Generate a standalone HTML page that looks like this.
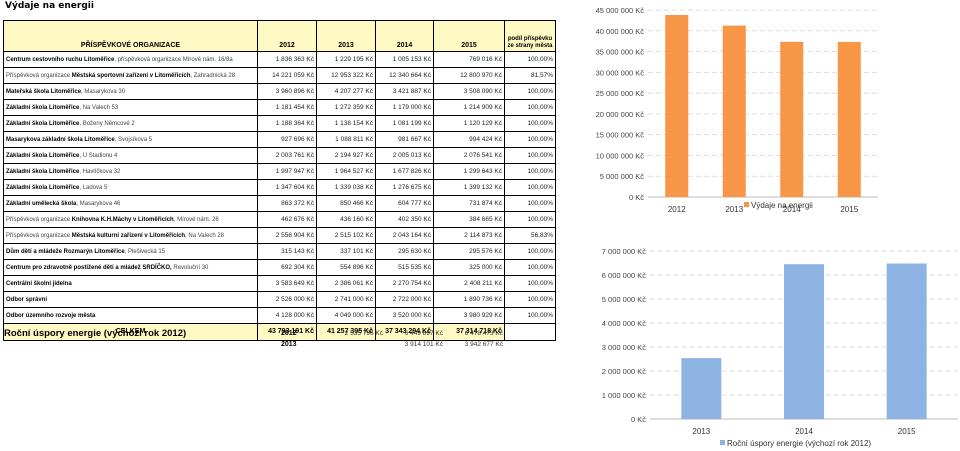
<!DOCTYPE html>
<html><head><meta charset="utf-8">
<style>
body{margin:0;width:960px;height:451px;background:#fff;position:relative;overflow:hidden;font-family:"Liberation Sans",sans-serif;color:#000}
#title{position:absolute;left:5px;top:1px;font-size:9px;font-weight:bold;font-family:"DejaVu Sans",sans-serif}
table{position:absolute;left:3px;top:20px;width:552px;border-collapse:collapse;table-layout:fixed;font-size:6.5px;font-family:"Liberation Sans",sans-serif}
td{border:1px solid #000;padding:0 2px;height:15px;white-space:nowrap;overflow:hidden;line-height:8px}
td.first{font-size:6px}
td.n{text-align:right;color:#222}
tr.h td{background:#fff9c4;font-weight:bold;text-align:center;height:29px;vertical-align:bottom;padding-bottom:1px;font-size:7px}
tr.h td.p{white-space:normal;line-height:7px;font-size:6px;padding:0 1px 1px 1px}
tr.t td{background:#fff9c4;font-weight:bold;height:16px;font-size:7px}
.l{color:#444}
.sav{position:absolute;font-size:6.5px;font-family:"Liberation Sans",sans-serif;color:#333}
svg text{font-family:"Liberation Sans",sans-serif}
</style></head><body>
<div id="title">Výdaje na energii</div>
<table>
<colgroup><col style="width:254px"><col style="width:59px"><col style="width:59px"><col style="width:58px"><col style="width:71px"><col style="width:51px"></colgroup>
<tr class="h"><td>PŘÍSPĚVKOVÉ ORGANIZACE</td><td>2012</td><td>2013</td><td>2014</td><td>2015</td><td class="p">podíl příspěvku ze strany města</td></tr>
<tr><td class="first"><b>Centrum cestovního ruchu Litoměřice</b><span class="l">, příspěvková organizace  Mírové nám. 16/8a</span></td><td class="n">1 836 363 Kč</td><td class="n">1 229 195 Kč</td><td class="n">1 005 153 Kč</td><td class="n">769 016 Kč</td><td class="n">100,00%</td></tr>
<tr><td class="first"><span class="l">Příspěvková organizace </span><b>Městská sportovní zařízení v Litoměřicích</b><span class="l">, Zahradnická 28</span></td><td class="n">14 221 059 Kč</td><td class="n">12 953 322 Kč</td><td class="n">12 340 664 Kč</td><td class="n">12 800 970 Kč</td><td class="n">81,57%</td></tr>
<tr><td class="first"><b>Mateřská škola Litoměřice</b><span class="l">, Masarykova 30</span></td><td class="n">3 960 896 Kč</td><td class="n">4 207 277 Kč</td><td class="n">3 421 887 Kč</td><td class="n">3 508 090 Kč</td><td class="n">100,00%</td></tr>
<tr><td class="first"><b>Základní škola Litoměřice</b><span class="l">, Na Valech 53</span></td><td class="n">1 181 454 Kč</td><td class="n">1 272 359 Kč</td><td class="n">1 179 000 Kč</td><td class="n">1 214 909 Kč</td><td class="n">100,00%</td></tr>
<tr><td class="first"><b>Základní škola Litoměřice</b><span class="l">, Boženy Němcové 2</span></td><td class="n">1 188 364 Kč</td><td class="n">1 138 154 Kč</td><td class="n">1 081 199 Kč</td><td class="n">1 120 129 Kč</td><td class="n">100,00%</td></tr>
<tr><td class="first"><b>Masarykova základní škola Litoměřice</b><span class="l">, Svojsíkova 5</span></td><td class="n">927 696 Kč</td><td class="n">1 088 811 Kč</td><td class="n">981 667 Kč</td><td class="n">994 424 Kč</td><td class="n">100,00%</td></tr>
<tr><td class="first"><b>Základní škola Litoměřice</b><span class="l">, U Stadionu 4</span></td><td class="n">2 003 761 Kč</td><td class="n">2 194 927 Kč</td><td class="n">2 005 013 Kč</td><td class="n">2 076 541 Kč</td><td class="n">100,00%</td></tr>
<tr><td class="first"><b>Základní škola Litoměřice</b><span class="l">, Havlíčkova 32</span></td><td class="n">1 997 947 Kč</td><td class="n">1 964 527 Kč</td><td class="n">1 677 826 Kč</td><td class="n">1 299 643 Kč</td><td class="n">100,00%</td></tr>
<tr><td class="first"><b>Základní škola Litoměřice</b><span class="l">, Ladova 5</span></td><td class="n">1 347 604 Kč</td><td class="n">1 339 038 Kč</td><td class="n">1 276 675 Kč</td><td class="n">1 399 132 Kč</td><td class="n">100,00%</td></tr>
<tr><td class="first"><b>Základní umělecká škola</b><span class="l">, Masarykova 46</span></td><td class="n">863 372 Kč</td><td class="n">850 466 Kč</td><td class="n">604 777 Kč</td><td class="n">731 874 Kč</td><td class="n">100,00%</td></tr>
<tr><td class="first"><span class="l">Příspěvková organizace </span><b>Knihovna K.H.Máchy v Litoměřicích</b><span class="l">, Mírové nám. 26</span></td><td class="n">462 676 Kč</td><td class="n">436 160 Kč</td><td class="n">402 350 Kč</td><td class="n">384 665 Kč</td><td class="n">100,00%</td></tr>
<tr><td class="first"><span class="l">Příspěvková organizace </span><b>Městská kulturní zařízení v Litoměřicích</b><span class="l">, Na Valech  28</span></td><td class="n">2 556 904 Kč</td><td class="n">2 515 102 Kč</td><td class="n">2 043 164 Kč</td><td class="n">2 114 873 Kč</td><td class="n">56,83%</td></tr>
<tr><td class="first"><b>Dům dětí a mládeže Rozmarýn Litoměřice</b><span class="l">, Plešivecká 15</span></td><td class="n">315 143 Kč</td><td class="n">337 101 Kč</td><td class="n">295 630 Kč</td><td class="n">295 576 Kč</td><td class="n">100,00%</td></tr>
<tr><td class="first"><b>Centrum pro zdravotně postižené děti a mládež SRDÍČKO,</b><span class="l"> Revoluční 30</span></td><td class="n">692 304 Kč</td><td class="n">554 896 Kč</td><td class="n">515 535 Kč</td><td class="n">325 000 Kč</td><td class="n">100,00%</td></tr>
<tr><td class="first"><b>Centrální školní jídelna</b></td><td class="n">3 583 649 Kč</td><td class="n">2 386 061 Kč</td><td class="n">2 270 754 Kč</td><td class="n">2 408 211 Kč</td><td class="n">100,00%</td></tr>
<tr><td class="first"><b>Odbor správní</b></td><td class="n">2 526 000 Kč</td><td class="n">2 741 000 Kč</td><td class="n">2 722 000 Kč</td><td class="n">1 890 736 Kč</td><td class="n">100,00%</td></tr>
<tr><td class="first"><b>Odbor územního rozvoje města</b></td><td class="n">4 128 000 Kč</td><td class="n">4 049 000 Kč</td><td class="n">3 520 000 Kč</td><td class="n">3 980 929 Kč</td><td class="n">100,00%</td></tr>
<tr class="t"><td style="text-align:center">CELKEM</td><td class="n" style="color:#000">43 793 191 Kč</td><td class="n" style="color:#000">41 257 395 Kč</td><td class="n" style="color:#000">37 343 294 Kč</td><td class="n" style="color:#000">37 314 718 Kč</td><td style="background:#fff"></td></tr>
</table>
<div style="position:absolute;left:4px;top:328px;font-size:9.5px;font-weight:bold">Roční úspory energie (výchozí rok 2012)</div>
<div class="sav" style="left:281px;top:330px;font-weight:bold;color:#000;font-size:7px">2012</div>
<div class="sav" style="left:281px;top:341px;font-weight:bold;color:#000;font-size:7px">2013</div>
<div class="sav" style="left:300px;width:83px;text-align:right;top:330px">2 535 796 Kč</div>
<div class="sav" style="left:380px;width:63px;text-align:right;top:330px">6 449 897 Kč</div>
<div class="sav" style="left:440px;width:63px;text-align:right;top:330px">6 478 473 Kč</div>
<div class="sav" style="left:380px;width:63px;text-align:right;top:341px">3 914 101 Kč</div>
<div class="sav" style="left:440px;width:63px;text-align:right;top:341px">3 942 677 Kč</div>

<svg id="c1" style="position:absolute;left:0;top:0" width="960" height="451"></svg>
<script>
const cats1=["2012","2013","2014","2015"];
const vals1=[43793191,41257395,37343294,37314718];
const ticks1=[0,5000000,10000000,15000000,20000000,25000000,30000000,35000000,40000000,45000000];
const cats2=["2013","2014","2015"];
const vals2=[2535796,6449897,6478473];
const ticks2=[0,1000000,2000000,3000000,4000000,5000000,6000000,7000000];
const NS="http://www.w3.org/2000/svg";
const svg=document.getElementById('c1');
function fmt(v){return v.toString().replace(/\B(?=(\d{3})+(?!\d))/g,' ')+' Kč';}
function mk(t,a,txt){const e=document.createElementNS(NS,t);for(const k in a)e.setAttribute(k,a[k]);if(txt!=null)e.textContent=txt;svg.appendChild(e);return e;}
function chart(o){
  const y=v=>o.y0-(v/o.max)*(o.y0-o.y1);
  const cw=(o.x1-o.x0)/o.cats.length;
  o.ticks.forEach(t=>{
    const g=mk('line',{x1:o.x0,x2:o.x1,y1:y(t),y2:y(t),stroke:t===0?'#bbb':'#ddd','stroke-dasharray':t===0?'':'5,3'});
    
    
    const l=mk('text',{x:o.x0-4,y:y(t)+3,'text-anchor':'end','font-size':7.5,fill:'#444'},fmt(t));
    
    
  });
  o.cats.forEach((c,i)=>{
    const cx=o.x0+cw*(i+0.5);
    const b=mk('rect',{x:cx-o.bw/2,y:y(o.vals[i]),width:o.bw,height:o.y0-y(o.vals[i]),fill:o.color});
    
    
    const l=mk('text',{x:cx,y:o.y0+15,'text-anchor':'middle','font-size':8,fill:'#333'},c);
    
    
  });
  const s=mk('rect',{x:o.lx,y:o.ly-6,width:5,height:5,fill:o.color});
  
  
  const lt=mk('text',{x:o.lx+7,y:o.ly,'font-size':8,fill:'#333'},o.legend);
  
  
}
chart({cats:cats1,vals:vals1,ticks:ticks1,max:45000000,x0:648,x1:878,y0:197,y1:10,bw:23,color:'#f79646',lx:744,ly:208,legend:'Výdaje na energii'});
chart({cats:cats2,vals:vals2,ticks:ticks2,max:7000000,x0:650,x1:958,y0:419,y1:251,bw:40,color:'#8db3e2',lx:720,ly:446,legend:'Roční úspory energie (výchozí rok 2012)'});
</script>
</body></html>
